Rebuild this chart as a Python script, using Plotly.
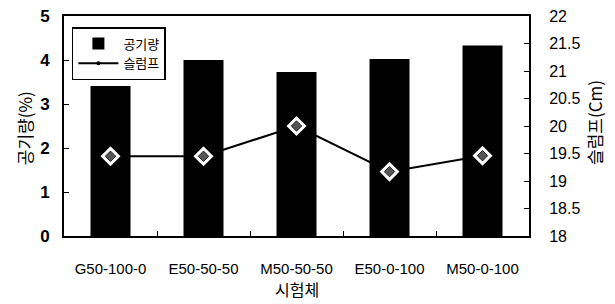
import plotly.graph_objects as go

categories = ["G50-100-0", "E50-50-50", "M50-50-50", "E50-0-100", "M50-0-100"]
air_content = [3.41, 4.0, 3.73, 4.02, 4.33]
slump = [19.45, 19.45, 20.0, 19.17, 19.46]

FONT = "Liberation Sans, Arial, Noto Sans CJK KR"
KFONT = "Noto Sans CJK KR, Liberation Sans"

fig = go.Figure()

# slump line (drawn underneath bars)
fig.add_trace(go.Scatter(
    x=categories, y=slump, yaxis="y", mode="lines+markers", name="슬럼프",
    line=dict(color="black", width=2), marker=dict(color="black", size=4),
))
# air content bars
fig.add_trace(go.Bar(
    x=categories, y=air_content, yaxis="y2", name="공기량",
    marker=dict(color="black", line=dict(width=0)), width=0.43,
))
# slump markers on top
fig.add_trace(go.Scatter(
    x=categories, y=slump, yaxis="y3", mode="markers", showlegend=False,
    marker=dict(symbol="diamond", size=17, color="white",
                line=dict(color="black", width=1.5)),
))
fig.add_trace(go.Scatter(
    x=categories, y=slump, yaxis="y3", mode="markers", showlegend=False,
    marker=dict(symbol="diamond", size=8, color="#555555",
                line=dict(color="#222222", width=1)),
))

fig.update_layout(
    width=607, height=296,
    margin=dict(l=56, r=86, t=8, b=68, pad=0, autoexpand=False),
    plot_bgcolor="white", paper_bgcolor="white",
    font=dict(family=FONT, color="black"),
    showlegend=True,
    legend=dict(
        x=0.017, y=0.95, xanchor="left", yanchor="top",
        bordercolor="black", borderwidth=1.5, bgcolor="white",
        font=dict(family=KFONT, size=13, color="black"),
        traceorder="reversed", tracegroupgap=0,
        itemwidth=40,
    ),
    xaxis=dict(
        range=[-0.5, 4.5], showline=True, linecolor="black", linewidth=2,
        mirror=True, ticks="inside", tickson="boundaries", ticklen=5,
        tickcolor="black", tickfont=dict(family=FONT, size=15),
        ticklabelstandoff=18, automargin=False,
        showgrid=False,
    ),
    yaxis=dict(
        side="right", range=[18, 22], dtick=0.5,
        showline=True, linecolor="black", linewidth=2,
        ticks="inside", ticklen=5, tickcolor="black",
        tickfont=dict(family=FONT, size=16), ticklabelstandoff=15,
        ticklabeloverflow="allow",
        automargin=False,
        showgrid=False, zeroline=False,
    ),
    yaxis2=dict(
        side="left", overlaying="y", range=[0, 5], dtick=1,
        showline=True, linecolor="black", linewidth=2,
        ticks="inside", ticklen=5, tickcolor="black",
        tickfont=dict(family="Liberation Sans, Arial", size=17, weight="bold"),
        ticklabelstandoff=9, automargin=False,
        ticklabeloverflow="allow",
        showgrid=False, zeroline=False,
    ),
    yaxis3=dict(
        overlaying="y", range=[18, 22], visible=False, showgrid=False,
        automargin=False,
    ),
    annotations=[
        dict(text="공기량(%)", xref="paper", yref="paper", x=-0.086, y=0.49,
             textangle=-90, showarrow=False, xanchor="center", yanchor="middle",
             font=dict(family=KFONT, size=17, color="black")),
        dict(text="슬럼프(Cm)", xref="paper", yref="paper", x=1.142, y=0.514,
             textangle=-90, showarrow=False, xanchor="center", yanchor="middle",
             font=dict(family=KFONT, size=17, color="black")),
        dict(text="시험체", xref="paper", yref="paper", x=0.5, y=-0.241,
             showarrow=False, xanchor="center", yanchor="middle",
             font=dict(family=KFONT, size=16, color="black")),
    ],
)

fig.write_html("out.html")
